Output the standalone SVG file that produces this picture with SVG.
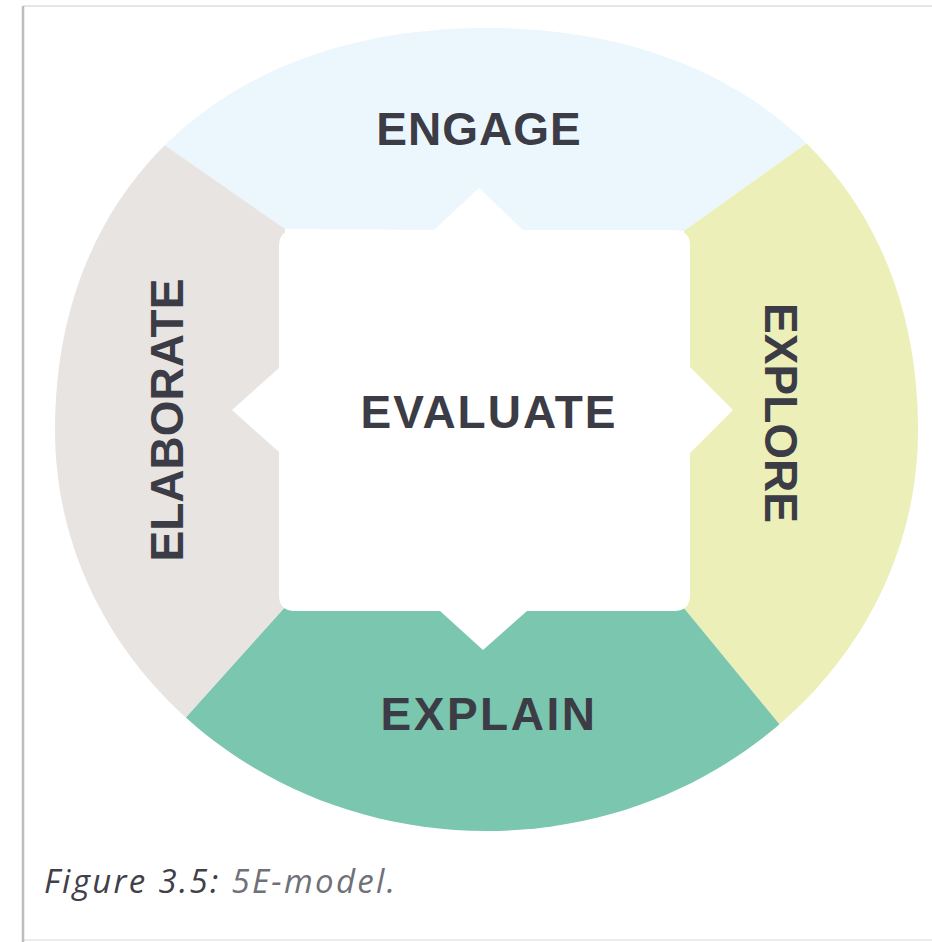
<svg xmlns="http://www.w3.org/2000/svg" width="932" height="942" viewBox="0 0 932 942">
  <defs>
    <clipPath id="disc">
      <path d="M55,430 C55,188 223,28 486.5,28 C750,28 918,188 918,430 C918,652 724,831 486.5,831 C249,831 55,652 55,430 Z"/>
    </clipPath>
    <style>
      .lbl { font-family: "Liberation Sans", Arial, sans-serif; font-weight: bold; font-size: 46px; fill: #3b3c45; text-anchor: middle; }
      .cap { font-family: "Open Sans", "Liberation Sans", sans-serif; font-style: italic; font-size: 33px; }
    </style>
  </defs>
  <rect width="932" height="942" fill="#ffffff"/>
  <g id="frame">
    <line x1="23" y1="6" x2="932" y2="6" stroke="#e6e6e6" stroke-width="2"/>
    <line x1="23" y1="940" x2="932" y2="940" stroke="#ececec" stroke-width="2"/>
    <line x1="23" y1="6" x2="23" y2="942" stroke="#bdbdbd" stroke-width="2.5"/>
  </g>
  <g clip-path="url(#disc)">
    <g id="engage">
      <polygon points="35,55 285,229 684,231 930,55 930,-10 35,-10" fill="#ecf7fd"/>
    </g>
    <g id="explore">
      <polygon points="930,55 684,231 683,607 877,843 1000,843 1000,55" fill="#ecefb8"/>
    </g>
    <g id="explain">
      <polygon points="877,843 683,607 285,607 91,823 91,950 877,950" fill="#7bc6ae"/>
    </g>
    <g id="elaborate">
      <polygon points="91,823 285,607 285,229 35,55 -10,55 -10,823" fill="#e7e4e2"/>
    </g>
  </g>
  <g id="evaluate">
    <path d="M295,230 L434,230 L479,188 L523,230 L674,230 Q690,230 690,246 L690,367 L733,410 L690,453 L690,595 Q690,611 674,611 L527,611 L483,650 L440,611 L295,611 Q279,611 279,595 L279,452 L232,410 L279,368 L279,246 Q279,230 295,230 Z" fill="#ffffff"/>
    <text class="lbl" x="489" y="428" letter-spacing="2">EVALUATE</text>
  </g>
  <text class="lbl" x="479" y="145" letter-spacing="1">ENGAGE</text>
  <text class="lbl" x="489" y="730" letter-spacing="2.5">EXPLAIN</text>
  <text class="lbl" transform="translate(765,413) rotate(90)">EXPLORE</text>
  <text class="lbl" transform="translate(183,420) rotate(-90)">ELABORATE</text>
  <text class="cap" x="44" y="893" textLength="351" lengthAdjust="spacing"><tspan fill="#3f4048">Figure 3.5:</tspan><tspan fill="#707078"> 5E-model.</tspan></text>
</svg>
